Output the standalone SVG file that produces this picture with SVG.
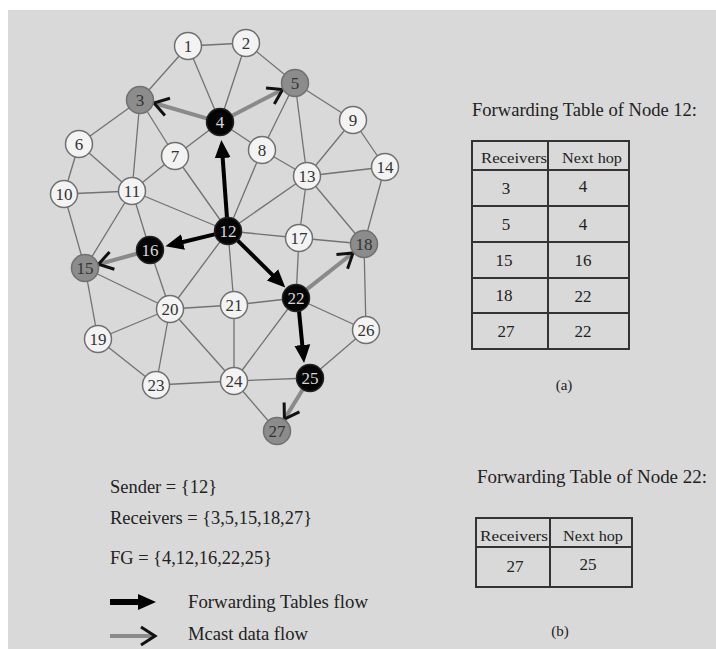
<svg xmlns="http://www.w3.org/2000/svg" width="716" height="649" viewBox="0 0 716 649" font-family="'Liberation Serif','DejaVu Serif','Times New Roman',serif">
<style>
.bg{fill:#d9d9d9}
.e line{stroke:#727272;stroke-width:1.3}
.n circle{stroke:#707070;stroke-width:1.5}
.w circle{fill:#f3f3f3}
.g circle{fill:#8c8c8c}
.b circle{fill:#050505;stroke:#222}
.n text{font-family:'Liberation Serif','DejaVu Serif',serif;font-size:17px;text-anchor:middle}
.w text,.g text{fill:#333}
.b text{fill:#d8d8d8}
.t{font-family:'Liberation Serif','DejaVu Serif',serif;fill:#222}
.ft{stroke:#000;stroke-width:4}
.md{stroke:#8a8a8a;stroke-width:4}
.tb{fill:none;stroke:#333;stroke-width:2}
</style>
<defs>
<marker id="ah" markerUnits="userSpaceOnUse" markerWidth="20" markerHeight="20" viewBox="0 -10 20 20" refX="1" refY="0" orient="auto"><path d="M0,-8 L18,0 L0,8 Z" fill="#000"/></marker>
<marker id="ch" markerUnits="userSpaceOnUse" markerWidth="20" markerHeight="24" viewBox="-17 -12 20 24" refX="0" refY="0" orient="auto"><path d="M-14,-9 L0,0 L-14,9" fill="none" stroke="#111" stroke-width="3"/></marker>
</defs>
<rect class="bg" x="8" y="10" width="708" height="639"/>
<g id="connectors">
<g class="e">
<line x1="188" y1="46" x2="246" y2="43"/>
<line x1="188" y1="46" x2="140" y2="100"/>
<line x1="188" y1="46" x2="220" y2="122"/>
<line x1="246" y1="43" x2="220" y2="122"/>
<line x1="246" y1="43" x2="295" y2="83"/>
<line x1="140" y1="100" x2="220" y2="122"/>
<line x1="140" y1="100" x2="79" y2="144"/>
<line x1="140" y1="100" x2="175" y2="156"/>
<line x1="140" y1="100" x2="132" y2="191"/>
<line x1="220" y1="122" x2="295" y2="83"/>
<line x1="220" y1="122" x2="175" y2="156"/>
<line x1="220" y1="122" x2="262" y2="150"/>
<line x1="295" y1="83" x2="262" y2="150"/>
<line x1="295" y1="83" x2="353" y2="120"/>
<line x1="295" y1="83" x2="307" y2="176"/>
<line x1="79" y1="144" x2="64" y2="194"/>
<line x1="79" y1="144" x2="132" y2="191"/>
<line x1="175" y1="156" x2="132" y2="191"/>
<line x1="175" y1="156" x2="228" y2="231"/>
<line x1="262" y1="150" x2="228" y2="231"/>
<line x1="262" y1="150" x2="307" y2="176"/>
<line x1="353" y1="120" x2="307" y2="176"/>
<line x1="353" y1="120" x2="385" y2="167"/>
<line x1="307" y1="176" x2="385" y2="167"/>
<line x1="64" y1="194" x2="132" y2="191"/>
<line x1="64" y1="194" x2="85" y2="268"/>
<line x1="132" y1="191" x2="228" y2="231"/>
<line x1="132" y1="191" x2="85" y2="268"/>
<line x1="132" y1="191" x2="150" y2="250"/>
<line x1="228" y1="231" x2="307" y2="176"/>
<line x1="228" y1="231" x2="299" y2="238"/>
<line x1="228" y1="231" x2="170" y2="309"/>
<line x1="228" y1="231" x2="234" y2="305"/>
<line x1="307" y1="176" x2="299" y2="238"/>
<line x1="307" y1="176" x2="364" y2="244"/>
<line x1="385" y1="167" x2="364" y2="244"/>
<line x1="85" y1="268" x2="150" y2="250"/>
<line x1="85" y1="268" x2="98" y2="339"/>
<line x1="85" y1="268" x2="170" y2="309"/>
<line x1="150" y1="250" x2="170" y2="309"/>
<line x1="299" y1="238" x2="364" y2="244"/>
<line x1="299" y1="238" x2="296" y2="298"/>
<line x1="364" y1="244" x2="296" y2="298"/>
<line x1="364" y1="244" x2="366" y2="330"/>
<line x1="98" y1="339" x2="170" y2="309"/>
<line x1="98" y1="339" x2="156" y2="385"/>
<line x1="170" y1="309" x2="234" y2="305"/>
<line x1="170" y1="309" x2="156" y2="385"/>
<line x1="170" y1="309" x2="234" y2="381"/>
<line x1="234" y1="305" x2="296" y2="298"/>
<line x1="234" y1="305" x2="234" y2="381"/>
<line x1="296" y1="298" x2="234" y2="381"/>
<line x1="296" y1="298" x2="366" y2="330"/>
<line x1="156" y1="385" x2="234" y2="381"/>
<line x1="234" y1="381" x2="310" y2="378"/>
<line x1="234" y1="381" x2="277" y2="431"/>
<line x1="310" y1="378" x2="366" y2="330"/>
<line x1="310" y1="378" x2="277" y2="431"/>
</g>
<g id="ft-arrows">
<line class="ft" x1="227" y1="218" x2="222.6" y2="157" marker-end="url(#ah)"/>
<line class="ft" x1="215.4" y1="234.1" x2="182" y2="242.2" marker-end="url(#ah)"/>
<line class="ft" x1="237.3" y1="240.1" x2="273.2" y2="275.6" marker-end="url(#ah)"/>
<line class="ft" x1="299" y1="311" x2="302.4" y2="346" marker-end="url(#ah)"/>
</g>
<g id="md-arrows">
<line class="md" x1="207.5" y1="118.6" x2="154" y2="103" marker-end="url(#ch)"/>
<line class="md" x1="231.5" y1="116" x2="282.6" y2="89.5" marker-end="url(#ch)"/>
<line class="md" x1="137.5" y1="253.5" x2="98.5" y2="264.3" marker-end="url(#ch)"/>
<line class="md" x1="306.2" y1="289.9" x2="353" y2="253" marker-end="url(#ch)"/>
<line class="md" x1="303.1" y1="389" x2="284.4" y2="419.1" marker-end="url(#ch)"/>
</g>
</g>
<g id="nodes">
<g id="n1" class="n w"><circle cx="188" cy="46" r="13.5"/><text x="188" y="52">1</text></g>
<g id="n2" class="n w"><circle cx="246" cy="43" r="13.5"/><text x="246" y="49">2</text></g>
<g id="n3" class="n g"><circle cx="140" cy="100" r="13.5"/><text x="140" y="106">3</text></g>
<g id="n4" class="n b"><circle cx="220" cy="122" r="13.5"/><text x="220" y="128">4</text></g>
<g id="n5" class="n g"><circle cx="295" cy="83" r="13.5"/><text x="295" y="89">5</text></g>
<g id="n6" class="n w"><circle cx="79" cy="144" r="13.5"/><text x="79" y="150">6</text></g>
<g id="n7" class="n w"><circle cx="175" cy="156" r="13.5"/><text x="175" y="162">7</text></g>
<g id="n8" class="n w"><circle cx="262" cy="150" r="13.5"/><text x="262" y="156">8</text></g>
<g id="n9" class="n w"><circle cx="353" cy="120" r="13.5"/><text x="353" y="126">9</text></g>
<g id="n10" class="n w"><circle cx="64" cy="194" r="13.5"/><text x="64" y="200">10</text></g>
<g id="n11" class="n w"><circle cx="132" cy="191" r="13.5"/><text x="132" y="197">11</text></g>
<g id="n12" class="n b"><circle cx="228" cy="231" r="13.5"/><text x="228" y="237">12</text></g>
<g id="n13" class="n w"><circle cx="307" cy="176" r="13.5"/><text x="307" y="182">13</text></g>
<g id="n14" class="n w"><circle cx="385" cy="167" r="13.5"/><text x="385" y="173">14</text></g>
<g id="n15" class="n g"><circle cx="85" cy="268" r="13.5"/><text x="85" y="274">15</text></g>
<g id="n16" class="n b"><circle cx="150" cy="250" r="13.5"/><text x="150" y="256">16</text></g>
<g id="n17" class="n w"><circle cx="299" cy="238" r="13.5"/><text x="299" y="244">17</text></g>
<g id="n18" class="n g"><circle cx="364" cy="244" r="13.5"/><text x="364" y="250">18</text></g>
<g id="n19" class="n w"><circle cx="98" cy="339" r="13.5"/><text x="98" y="345">19</text></g>
<g id="n20" class="n w"><circle cx="170" cy="309" r="13.5"/><text x="170" y="315">20</text></g>
<g id="n21" class="n w"><circle cx="234" cy="305" r="13.5"/><text x="234" y="311">21</text></g>
<g id="n22" class="n b"><circle cx="296" cy="298" r="13.5"/><text x="296" y="304">22</text></g>
<g id="n23" class="n w"><circle cx="156" cy="385" r="13.5"/><text x="156" y="391">23</text></g>
<g id="n24" class="n w"><circle cx="234" cy="381" r="13.5"/><text x="234" y="387">24</text></g>
<g id="n25" class="n b"><circle cx="310" cy="378" r="13.5"/><text x="310" y="384">25</text></g>
<g id="n26" class="n w"><circle cx="366" cy="330" r="13.5"/><text x="366" y="336">26</text></g>
<g id="n27" class="n g"><circle cx="277" cy="431" r="13.5"/><text x="277" y="437">27</text></g>
</g>
<g id="table12">
<text class="t" x="472" y="116" font-size="19" textLength="225" lengthAdjust="spacingAndGlyphs">Forwarding Table of Node 12:</text>
<rect class="tb" x="472" y="141" width="157" height="208"/>
<line class="tb" x1="548" y1="141" x2="548" y2="349"/>
<line class="tb" x1="472" y1="170" x2="629" y2="170"/>
<line class="tb" x1="472" y1="206" x2="629" y2="206"/>
<line class="tb" x1="472" y1="242" x2="629" y2="242"/>
<line class="tb" x1="472" y1="278" x2="629" y2="278"/>
<line class="tb" x1="472" y1="313" x2="629" y2="313"/>
<g class="t" text-anchor="middle" font-size="17">
<text x="514" y="163" font-size="15" textLength="66" lengthAdjust="spacingAndGlyphs">Receivers</text>
<text x="592" y="163" font-size="15" textLength="60" lengthAdjust="spacingAndGlyphs">Next hop</text>
<text x="506" y="194">3</text><text x="583" y="192">4</text>
<text x="506" y="230">5</text><text x="583" y="230">4</text>
<text x="504" y="266">15</text><text x="583" y="266">16</text>
<text x="504" y="301">18</text><text x="583" y="302">22</text>
<text x="506" y="337">27</text><text x="583" y="337">22</text>
<text x="564" y="390" font-size="15">(a)</text>
</g>
</g>
<g id="table22">
<text class="t" x="477" y="483" font-size="19" textLength="230" lengthAdjust="spacingAndGlyphs">Forwarding Table of  Node 22:</text>
<rect class="tb" x="476" y="518" width="156" height="69"/>
<line class="tb" x1="550" y1="518" x2="550" y2="587"/>
<line class="tb" x1="476" y1="547" x2="632" y2="547"/>
<g class="t" text-anchor="middle" font-size="17">
<text x="514" y="541" font-size="15" textLength="68" lengthAdjust="spacingAndGlyphs">Receivers</text>
<text x="593" y="541" font-size="15" textLength="60" lengthAdjust="spacingAndGlyphs">Next hop</text>
<text x="515" y="572">27</text><text x="588" y="570">25</text>
<text x="560" y="636" font-size="15">(b)</text>
</g>
</g>
<g id="info" class="t" font-size="18">
<text x="110" y="493" textLength="107" lengthAdjust="spacingAndGlyphs">Sender = {12}</text>
<text x="110" y="524" textLength="202" lengthAdjust="spacingAndGlyphs">Receivers = {3,5,15,18,27}</text>
<text x="110" y="564" textLength="162" lengthAdjust="spacingAndGlyphs">FG = {4,12,16,22,25}</text>
</g>
<g id="legend">
<line x1="110" y1="602" x2="139" y2="602" stroke="#000" stroke-width="6" marker-end="url(#ah)"/>
<line class="md" x1="110" y1="636" x2="155" y2="636" marker-end="url(#ch)"/>
<text class="t" x="188" y="608" font-size="18" textLength="180" lengthAdjust="spacingAndGlyphs">Forwarding Tables flow</text>
<text class="t" x="188" y="640" font-size="18" textLength="120" lengthAdjust="spacingAndGlyphs">Mcast data flow</text>
</g>
</svg>
